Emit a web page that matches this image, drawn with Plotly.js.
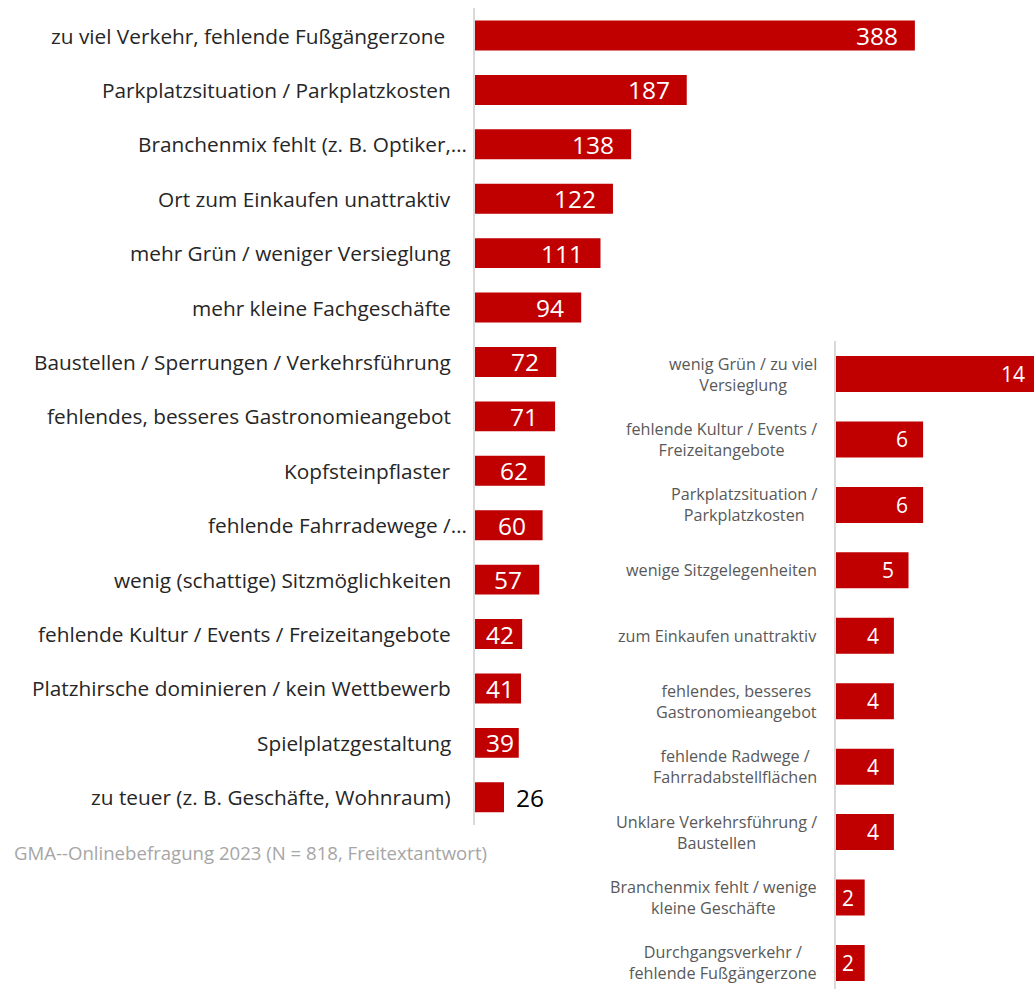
<!DOCTYPE html>
<html>
<head>
<meta charset="utf-8">
<script src="https://cdn.plot.ly/plotly-3.0.1.min.js"></script>
<style>
  html, body { margin: 0; padding: 0; overflow: hidden; background: #fff; }
  #chart { width: 1040px; height: 1000px; }
</style>
</head>
<body>
<div id="chart"></div>
<script>
// ---- Data ----
const leftCategories = [
  "zu viel Verkehr, fehlende Fußgängerzone\u00a0",
  "Parkplatzsituation / Parkplatzkosten",
  "Branchenmix fehlt (z. B. Optiker,…",
  "Ort zum Einkaufen unattraktiv",
  "mehr Grün / weniger Versieglung",
  "mehr kleine Fachgeschäfte",
  "Baustellen / Sperrungen / Verkehrsführung",
  "fehlendes, besseres Gastronomieangebot",
  "Kopfsteinpflaster",
  "fehlende Fahrradewege /…",
  "wenig (schattige) Sitzmöglichkeiten",
  "fehlende Kultur / Events / Freizeitangebote",
  "Platzhirsche dominieren / kein Wettbewerb",
  "Spielplatzgestaltung",
  "zu teuer (z. B. Geschäfte, Wohnraum)"
];
const leftValues = [388, 187, 138, 122, 111, 94, 72, 71, 62, 60, 57, 42, 41, 39, 26];

const rightCategories = [
  "wenig Grün / zu viel<br>Versieglung",
  "fehlende Kultur / Events /<br>Freizeitangebote",
  "Parkplatzsituation /<br>Parkplatzkosten",
  "wenige Sitzgelegenheiten",
  "zum Einkaufen unattraktiv",
  "fehlendes, besseres<br>Gastronomieangebot",
  "fehlende Radwege /<br>Fahrradabstellflächen",
  "Unklare Verkehrsführung /<br>Baustellen",
  "Branchenmix fehlt / wenige<br>kleine Geschäfte",
  "Durchgangsverkehr /<br>fehlende Fußgängerzone"
];
const rightValues = [14, 6, 6, 5, 4, 4, 4, 4, 2, 2];

const footnote = "GMA--Onlinebefragung 2023 (N = 818, Freitextantwort)";

// ---- Layout geometry (pixels) ----
const W = 1040, H = 1000;
const FONT = "'Open Sans', Lato, sans-serif";
const BAR = "#c00000";

const L = { x0: 474.5, y0: 8.3, y1: 824.5, pxPerUnit: 1.135, rangeMax: 395 };
L.x1 = L.x0 + L.rangeMax * L.pxPerUnit;
const R = { x0: 835.5, x1: 1040, y0: 341.3, y1: 995.7 };
R.pxPerUnit = 14.6;
R.rangeMax = (R.x1 - R.x0) / R.pxPerUnit;

const traces = [
  {
    type: "bar", orientation: "h",
    x: leftValues, y: leftCategories,
    xaxis: "x", yaxis: "y",
    marker: { color: BAR, line: { width: 0 } },
    hoverinfo: "x+y"
  },
  {
    type: "bar", orientation: "h",
    x: rightValues, y: rightCategories,
    xaxis: "x2", yaxis: "y2",
    marker: { color: BAR, line: { width: 0 } },
    hoverinfo: "x+y"
  }
];

const annotations = [];

// Category labels (left)
leftCategories.forEach((c) => {
  const overflow = c.endsWith("…") ? 16 : 0;
  annotations.push({
    xref: "x domain", yref: "y", x: 0, y: c,
    xanchor: "right", yanchor: "middle",
    xshift: -22 + overflow,
    text: c, showarrow: false, align: "right",
    font: { family: FONT, size: 20.8, color: "#262626" }
  });
});

// Category labels (right)
rightCategories.forEach((c) => {
  annotations.push({
    xref: "x2 domain", yref: "y2", x: 0, y: c,
    xanchor: "right", yanchor: "middle",
    xshift: -17,
    text: c, showarrow: false, align: "center",
    font: { family: FONT, size: 16.2, color: "#595959" }
  });
});

// Value labels
function valueLabels(cats, vals, axX, axY, cfg, fsize, endPad, startPad) {
  vals.forEach((v, i) => {
    const px = v * cfg.pxPerUnit;
    const textW = String(v).length * 0.57 * fsize;
    const inside = px >= textW + 10;
    if (inside) {
      const right = Math.max(px - endPad, startPad + textW);
      annotations.push({
        xref: axX, yref: axY, x: v, y: cats[i],
        xanchor: "right", yanchor: "middle", xshift: right - px,
        text: String(v), showarrow: false,
        font: { family: FONT, size: fsize, color: "#ffffff" }
      });
    } else {
      annotations.push({
        xref: axX, yref: axY, x: v, y: cats[i],
        xanchor: "left", yanchor: "middle", xshift: 10,
        text: String(v), showarrow: false,
        font: { family: FONT, size: fsize, color: "#000000" }
      });
    }
  });
}
valueLabels(leftCategories, leftValues, "x", "y", L, 24.5, 15, 14);
valueLabels(rightCategories, rightValues, "x2", "y2", R, 21, 13, 8.5);

// Footnote
annotations.push({
  xref: "paper", yref: "paper", x: 12 / W, y: 1 - 852 / H,
  xanchor: "left", yanchor: "middle",
  text: footnote, showarrow: false,
  font: { family: FONT, size: 18.6, color: "#a6a6a6" }
});

const layout = {
  width: W, height: H,
  margin: { l: 0, r: 0, t: 0, b: 0, pad: 0 },
  paper_bgcolor: "#ffffff",
  plot_bgcolor: "rgba(0,0,0,0)",
  showlegend: false,
  bargap: 0.45,
  xaxis: {
    domain: [L.x0 / W, L.x1 / W], range: [0, L.rangeMax],
    showgrid: false, zeroline: false, showline: false, showticklabels: false, ticks: "",
    anchor: "y", fixedrange: true
  },
  yaxis: {
    domain: [1 - L.y1 / H, 1 - L.y0 / H],
    type: "category", categoryorder: "array", categoryarray: leftCategories,
    range: [leftCategories.length - 0.5, -0.5],
    showgrid: false, zeroline: false, showticklabels: false, ticks: "",
    showline: true, linecolor: "#d9d9d9", linewidth: 2,
    anchor: "x", fixedrange: true
  },
  xaxis2: {
    domain: [R.x0 / W, R.x1 / W], range: [0, R.rangeMax],
    showgrid: false, zeroline: false, showline: false, showticklabels: false, ticks: "",
    anchor: "y2", fixedrange: true
  },
  yaxis2: {
    domain: [1 - R.y1 / H, 1 - R.y0 / H],
    type: "category", categoryorder: "array", categoryarray: rightCategories,
    range: [rightCategories.length - 0.5, -0.5],
    showgrid: false, zeroline: false, showticklabels: false, ticks: "",
    showline: true, linecolor: "#d9d9d9", linewidth: 2,
    anchor: "x2", fixedrange: true
  },
  annotations: annotations
};

Plotly.newPlot("chart", traces, layout, { displayModeBar: false, staticPlot: true });
</script>
</body>
</html>
